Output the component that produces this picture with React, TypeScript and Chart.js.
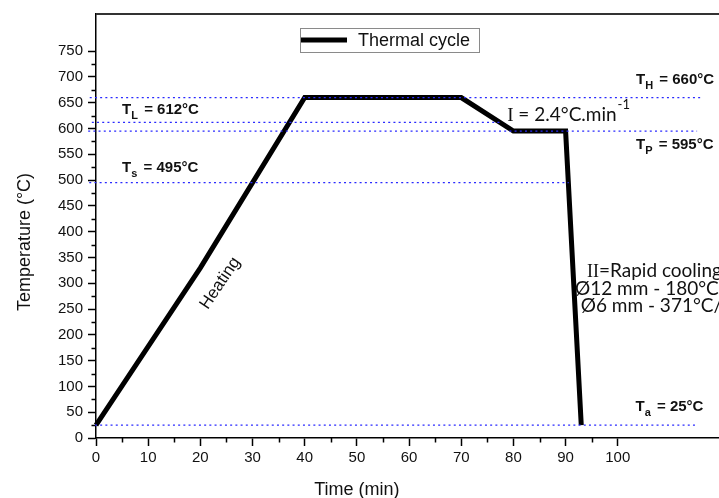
import React, { useEffect, useRef } from 'react';
import { Chart, registerables } from 'chart.js';
Chart.register(...registerables);

// Thermal cycle: time (min) vs temperature (°C)
const timeMin = [0, 20, 40, 70, 80, 90, 93];
const tempC = [25, 330, 660, 660, 595, 595, 25];

// Reference temperature lines (dotted)
const refTemps = [660, 612, 595, 495, 25];
const refStartMin = [-1.2, -0.8, -1.5, -1.3, -0.2];
const refEndMin = [115.8, 77.4, 115.2, 90.6, 115.0];

const xTickLabels = [0, 10, 20, 30, 40, 50, 60, 70, 80, 90, 100];
const xMinorTicks = [5, 15, 25, 35, 45, 55, 65, 75, 85, 95];
const yTickLabels = [0, 50, 100, 150, 200, 250, 300, 350, 400, 450, 500, 550, 600, 650, 700, 750];
const yMinorTicks = [25, 75, 125, 175, 225, 275, 325, 375, 425, 475, 525, 575, 625, 675, 725];

const SANS = '"Liberation Sans", Arial, sans-serif';
const CAL = 'Lato, "Noto Sans", sans-serif';
const SERIF = '"Liberation Serif", "DejaVu Serif", serif';

type Run = { text: string; font: string; dy?: number; gap?: number };

function drawRuns(ctx: CanvasRenderingContext2D, x: number, y: number, runs: Run[]) {
  let cx = x;
  ctx.textAlign = 'left';
  ctx.textBaseline = 'alphabetic';
  for (const r of runs) {
    ctx.font = r.font;
    ctx.fillText(r.text, cx, y + (r.dy || 0));
    cx += ctx.measureText(r.text).width + (r.gap || 0);
  }
}

const decorPlugin = {
  id: 'decor',
  beforeDatasetsDraw(chart: any) {
    const ctx: CanvasRenderingContext2D = chart.ctx;
    const { left, right, top, bottom } = chart.chartArea;
    const xs = chart.scales.x;
    const ys = chart.scales.y;
    ctx.save();
    ctx.strokeStyle = '#333';
    ctx.lineWidth = 2;
    ctx.beginPath();
    ctx.moveTo(left, top);
    ctx.lineTo(right + 2, top);
    ctx.stroke();
    ctx.strokeStyle = '#000';
    ctx.lineWidth = 1.5;
    ctx.beginPath();
    for (const v of xMinorTicks) {
      const px = Math.round(xs.getPixelForValue(v)) + 0.5;
      ctx.moveTo(px, bottom);
      ctx.lineTo(px, bottom + 4.5);
    }
    for (const v of yMinorTicks) {
      const py = Math.round(ys.getPixelForValue(v)) + 0.5;
      ctx.moveTo(left, py);
      ctx.lineTo(left - 4.5, py);
    }
    ctx.stroke();
    ctx.restore();
  },
  afterDraw(chart: any) {
    const ctx: CanvasRenderingContext2D = chart.ctx;
    const xs = chart.scales.x;
    const ys = chart.scales.y;
    const X = (v: number) => xs.getPixelForValue(v);
    const Y = (v: number) => ys.getPixelForValue(v);
    ctx.save();
    ctx.fillStyle = '#111';

    ctx.font = '18px ' + SANS;
    ctx.textAlign = 'center';
    ctx.textBaseline = 'alphabetic';
    ctx.fillText('Time (min)', X(50), 495);
    ctx.save();
    ctx.translate(30, 242);
    ctx.rotate(-Math.PI / 2);
    ctx.fillText('Temperature (°C)', 0, 0);
    ctx.restore();

    // legend
    ctx.strokeStyle = '#8a8a8a';
    ctx.lineWidth = 1;
    ctx.strokeRect(300.5, 28.5, 179, 24);
    ctx.strokeStyle = '#000';
    ctx.lineWidth = 5;
    ctx.beginPath();
    ctx.moveTo(301, 40);
    ctx.lineTo(347, 40);
    ctx.stroke();
    ctx.font = '18px ' + SANS;
    ctx.textAlign = 'left';
    ctx.textBaseline = 'middle';
    ctx.fillText('Thermal cycle', 358, 41);

    const B = 'bold 15px ' + SANS;
    const S = 'bold 11px ' + SANS;
    const label = (x: number, y: number, sub: string, rest: string) =>
      drawRuns(ctx, x, y, [
        { text: 'T', font: B, gap: 0 },
        { text: sub, font: S, dy: 5, gap: 2 },
        { text: ' = ' + rest, font: B },
      ]);
    label(X(103.5), Y(660) - 14, 'H', '660°C');
    label(X(103.5), Y(595) + 18, 'P', '595°C');
    label(X(5), Y(612) - 8, 'L', '612°C');
    label(X(5), Y(495) - 11, 's', '495°C');
    label(X(103.4), Y(25) - 14, 'a', '25°C');

    drawRuns(ctx, X(78.8), Y(612) - 1, [
      { text: 'I', font: '19px ' + SERIF },
      { text: ' = 2.4°C.min', font: '19px ' + CAL, gap: 1 },
      { text: '-1', font: '13px ' + CAL, dy: -12 },
    ]);
    drawRuns(ctx, X(94.1), 277, [
      { text: 'II', font: '18px ' + SERIF },
      { text: '=Rapid cooling', font: '19px ' + CAL },
    ]);
    drawRuns(ctx, X(91.8), 295, [{ text: 'Ø12 mm - 180°C/s', font: '19px ' + CAL }]);
    drawRuns(ctx, X(92.9), 312, [{ text: 'Ø6 mm - 371°C/s', font: '19px ' + CAL }]);

    ctx.save();
    ctx.translate(X(23.8), Y(300));
    ctx.rotate(-56 * Math.PI / 180);
    ctx.font = '17px ' + SANS;
    ctx.textAlign = 'center';
    ctx.textBaseline = 'middle';
    ctx.fillText('Heating', 0, 0);
    ctx.restore();

    ctx.restore();
  },
};

export default function App() {
  const ref = useRef<HTMLCanvasElement>(null);
  useEffect(() => {
    if (!ref.current) return;
    const refSets = refTemps.map((t, i) => ({
      label: 'ref' + t,
      data: [
        { x: refStartMin[i], y: t },
        { x: refEndMin[i], y: t },
      ],
      borderColor: '#2a2aff',
      borderWidth: 1.3,
      borderDash: [2, 3.2],
      pointRadius: 0,
      clip: false as any,
      order: 0,
    }));
    const chart = new Chart(ref.current, {
      type: 'line',
      data: {
        datasets: [
          {
            label: 'Thermal cycle',
            data: timeMin.map((t, i) => ({ x: t, y: tempC[i] })),
            borderColor: '#000',
            borderWidth: 5,
            borderJoinStyle: 'miter',
            pointRadius: 0,
            tension: 0,
            order: 1,
            clip: 4,
          } as any,
          ...(refSets as any),
        ],
      },
      options: {
        animation: false,
        responsive: false,
        layout: { padding: { top: 12, right: 0, left: 0, bottom: 0 } },
        plugins: { legend: { display: false }, tooltip: { enabled: false } },
        scales: {
          x: {
            type: 'linear',
            min: 0,
            max: 119.4,
            afterFit: (s: any) => { s.height = 60; },
            afterBuildTicks: (s: any) => { s.ticks = xTickLabels.map((v) => ({ value: v })); },
            grid: { display: true, drawOnChartArea: false, tickLength: 8, tickColor: '#000', tickWidth: 1.5 },
            border: { display: true, color: '#000', width: 1.5 },
            ticks: { font: { family: SANS, size: 15 }, color: '#111', padding: 3, maxRotation: 0, autoSkip: false },
          },
          y: {
            type: 'linear',
            min: 0,
            max: 822,
            afterFit: (s: any) => { s.width = 96; },
            afterBuildTicks: (s: any) => { s.ticks = yTickLabels.map((v) => ({ value: v })); },
            grid: { display: true, drawOnChartArea: false, tickLength: 8, tickColor: '#000', tickWidth: 1.5 },
            border: { display: true, color: '#000', width: 1.5 },
            ticks: { font: { family: SANS, size: 15 }, color: '#111', padding: 5, autoSkip: false },
          },
        },
      } as any,
      plugins: [decorPlugin],
    });
    return () => chart.destroy();
  }, []);
  return (
    <div style={{ position: 'fixed', left: 0, top: 0, width: 719, height: 498, background: '#fff' }}>
      <canvas ref={ref} width={719} height={498} style={{ display: 'block' }} />
    </div>
  );
}
